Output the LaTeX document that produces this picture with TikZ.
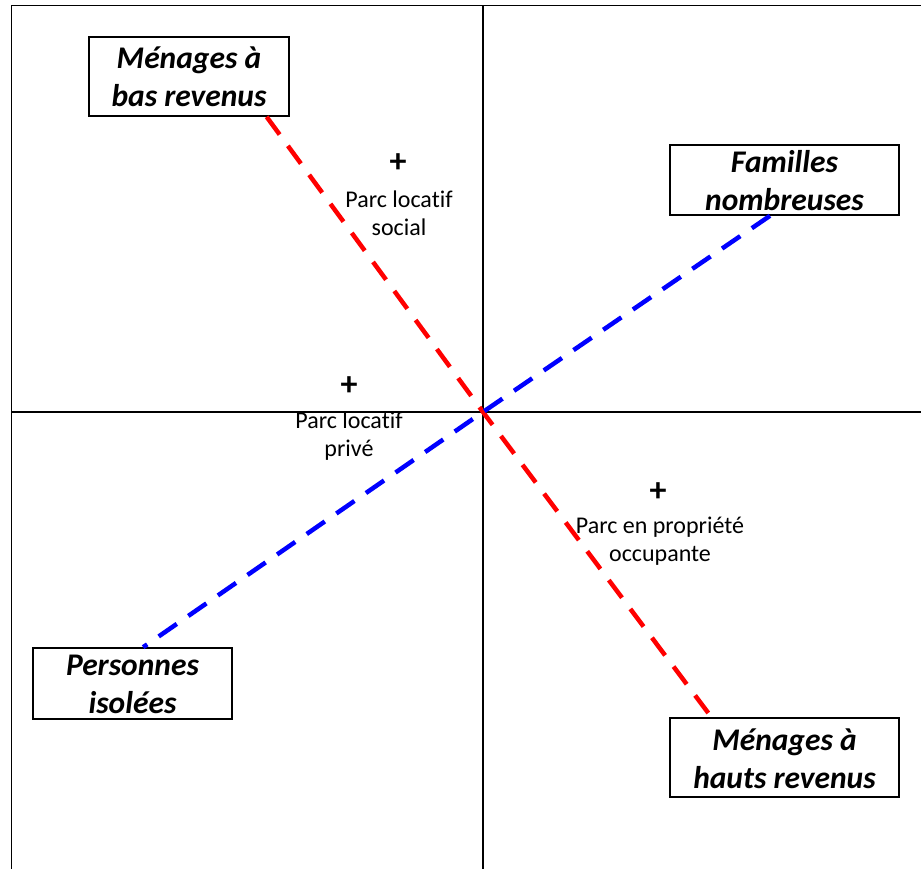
\documentclass[tikz,border=0pt]{standalone}
\usepackage{fontspec}
\setmainfont{Carlito}[Ligatures=NoCommon]
\usetikzlibrary{calc}
\begin{document}
\begin{tikzpicture}[x=1pt,y=-1pt,
  axis/.style={line width=1.6pt,black},
  lbox/.style={draw=black,line width=1.6pt,fill=white,rectangle,inner sep=0pt},
  ltext/.style={font=\fontsize{31.5}{38}\selectfont\bfseries\itshape,align=center,inner sep=0pt},
  ptext/.style={font=\fontsize{24}{28}\selectfont,align=center,inner sep=0pt},
  plus/.style={font=\fontsize{34}{34}\selectfont\bfseries,inner sep=0pt},
  dline/.style={line width=4.5pt,dash pattern=on 22pt off 14pt}]
\useasboundingbox (0,0) rectangle (921,869);
\fill[white] (0,0) rectangle (921,869);
% frame and axes
\draw[axis] (11.5,869) -- (11.5,5.5) -- (921,5.5);
\coordinate (o) at (483,412);
\draw[axis] (483,5.5) -- (483,869);
\draw[axis] (11.5,412) -- (921,412);
% boxes
\node[lbox,minimum width=200pt,minimum height=79pt] (bas) at (189,76.5) {};
\node[lbox,minimum width=229pt,minimum height=70pt] (fam) at (784.5,180) {};
\node[lbox,minimum width=199pt,minimum height=71pt] (iso) at (132.5,683.5) {};
\node[lbox,minimum width=229pt,minimum height=79pt] (hau) at (784.5,757.5) {};
% connector end points on the boxes
\coordinate (r1) at ($(bas.south west)!0.885!(bas.south east)$);
\coordinate (r2) at ($(hau.north west)!0.183!(hau.north east)$);
\coordinate (b1) at ($(fam.south west)!0.437!(fam.south east)$);
\coordinate (b2) at ($(iso.north west)!0.553!(iso.north east)$);
\draw[dline,red] (r1) -- (o) -- (r2);
\draw[dline,blue] (b1) -- (o) -- (b2);
% box texts
\node[ltext] (tbas) at ([yshift=-0.5pt]bas.center) {Ménages à\\bas revenus};
\node[ltext] (tfam) at ([yshift=-0.5pt]fam.center) {Familles\\nombreuses};
\node[ltext] (tiso) at ([yshift=-0.5pt]iso.center) {Personnes\\isolées};
\node[ltext] (thau) at ([yshift=-1.5pt]hau.center) {Ménages à\\hauts revenus};
% plus signs and labels
\node[plus] (p1) at (398,163) {+};
\node[ptext] (t1) at (399,213.5) {Parc locatif\\social};
\node[plus] (p2) at (349,386) {+};
\node[ptext] (t2) at (349,436.5) {Parc locatif\\privé};
\node[plus] (p3) at (658,492) {+};
\node[ptext] (t3) at (660,541.5) {Parc en propriété\\occupante};
\end{tikzpicture}
\end{document}
